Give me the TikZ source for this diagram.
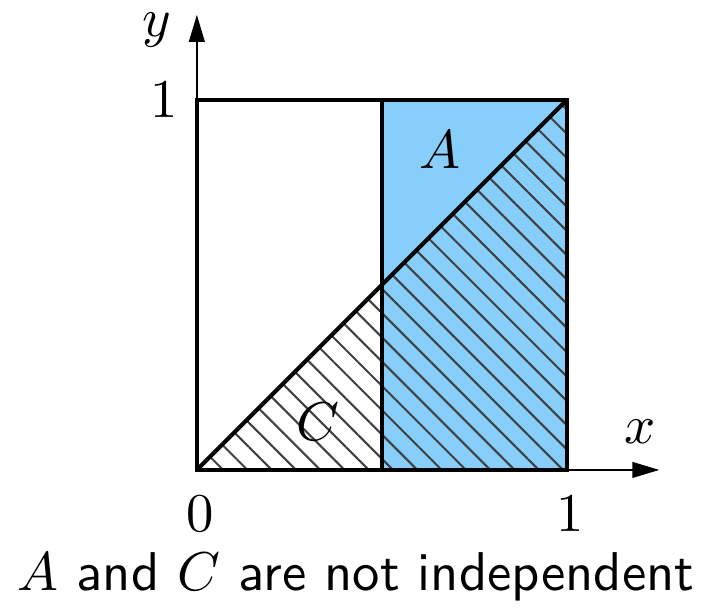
\documentclass[tikz,border=0pt]{standalone}
\usepackage{amsmath}
\usepackage{amssymb}
\usepackage{tikz}
\usepackage{xcolor}
\usetikzlibrary{arrows.meta, patterns.meta}
\definecolor{skyblue}{RGB}{135,206,250}

\begin{document}
\begin{tikzpicture}[x=2.5cm, y=2.5cm, >={Triangle[length=5.2pt, width=3pt]}, every node/.append style={scale=1.05}]
  \useasboundingbox (-0.532,-0.381) rectangle (1.376,1.270);
  \coordinate (O) at (0,0);
  \coordinate (xend) at (1.25,0);
  \coordinate (yend) at (0,1.23);
  \fill[skyblue] (0.5,0) rectangle (1,1);
  \fill[pattern={Lines[angle=-45, distance=3.3pt, line width=0.4pt]}, pattern color=black!75] (0,0) -- (1,0) -- (1,1) -- cycle;
  \draw[->] (O) -- (xend);
  \draw[->] (O) -- (yend);
  \draw[thick] (0,0) rectangle (1,1);
  \draw[thick] (0.5,0) -- (0.5,1);
  \draw[thick] (0,0) -- (1,1);
  \node (ylab) at (-0.108,1.19) {$y$};
  \node (xlab) at (1.197,0.103) {$x$};
  \node[left] (yone) at (0,1) {$1$};
  \node (xzero) at (0.008,-0.12) {$0$};
  \node (xone) at (1.008,-0.12) {$1$};
  \node (alab) at (0.657,0.865) {$A$};
  \node (clab) at (0.327,0.13) {$C$};
  \node[font=\sffamily] (cap) at (0.43,-0.29) {$A$ and $C$ are not independent};
\end{tikzpicture}
\end{document}
